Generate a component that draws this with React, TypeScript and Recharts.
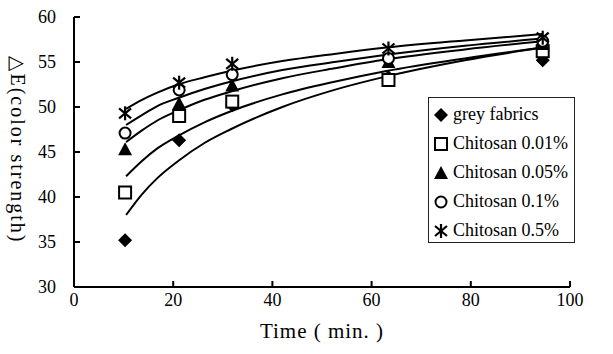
import React from "react";
import { ComposedChart, Line, Scatter, XAxis, YAxis, Legend } from "recharts";

// measured points (x as placed in the figure)
const pointTimes = [10.3, 21.2, 31.9, 63.4, 94.5];
const greyFabrics = [35.2, 46.3, 50.2, 53.3, 55.2];
const chitosan001 = [40.5, 49.0, 50.6, 53.0, 56.2];
const chitosan005 = [45.3, 50.4, 52.4, 55.0, 57.0];
const chitosan01 = [47.1, 51.9, 53.6, 55.4, 57.3];
const chitosan05 = [49.3, 52.7, 54.8, 56.5, 57.7];

// trend curves
const curveTimes = [10.5, 13.7, 16.8, 21, 26.3, 31.5, 42, 52.5, 63, 78.8, 94.5];
const greyCurve = [38.0, 40.3, 42.1, 44.0, 46.0, 47.5, 50.0, 51.9, 53.4, 55.2, 56.6];
const c001Curve = [42.3, 44.0, 45.4, 46.8, 48.3, 49.5, 51.4, 52.8, 54.0, 55.4, 56.6];
const c005Curve = [46.1, 47.4, 48.5, 49.6, 50.8, 51.7, 53.2, 54.3, 55.3, 56.4, 57.3];
const c01Curve = [48.0, 49.1, 50.1, 51.0, 52.0, 52.8, 54.1, 55.0, 55.8, 56.8, 57.6];
const c05Curve = [49.8, 50.8, 51.6, 52.5, 53.3, 54.0, 55.1, 55.9, 56.6, 57.4, 58.1];

const xTicks = [0, 20, 40, 60, 80, 100];
const yTicks = [30, 35, 40, 45, 50, 55, 60];

const FONT = "'Liberation Serif', 'Times New Roman', serif";

type Marker = "diamond" | "square" | "triangle" | "circle" | "star";

const series: { name: string; marker: Marker; values: number[]; curve: number[] }[] = [
  { name: "grey fabrics", marker: "diamond", values: greyFabrics, curve: greyCurve },
  { name: "Chitosan 0.01%", marker: "square", values: chitosan001, curve: c001Curve },
  { name: "Chitosan 0.05%", marker: "triangle", values: chitosan005, curve: c005Curve },
  { name: "Chitosan 0.1%", marker: "circle", values: chitosan01, curve: c01Curve },
  { name: "Chitosan 0.5%", marker: "star", values: chitosan05, curve: c05Curve },
];

const curveData = curveTimes.map((t, i) => {
  const row: Record<string, number> = { t };
  series.forEach((s, k) => {
    row["c" + k] = s.curve[i];
  });
  return row;
});

function MarkerShape({ kind, cx, cy }: { kind: Marker; cx: number; cy: number }) {
  if (kind === "diamond") {
    return <polygon points={`${cx},${cy - 7} ${cx + 7},${cy} ${cx},${cy + 7} ${cx - 7},${cy}`} fill="#000" />;
  }
  if (kind === "square") {
    return <rect x={cx - 6} y={cy - 6} width={12} height={12} fill="#fff" stroke="#000" strokeWidth={2} />;
  }
  if (kind === "triangle") {
    return <polygon points={`${cx},${cy - 7} ${cx + 7},${cy + 6} ${cx - 7},${cy + 6}`} fill="#000" />;
  }
  if (kind === "circle") {
    return <circle cx={cx} cy={cy} r={5.5} fill="#fff" stroke="#000" strokeWidth={2} />;
  }
  return (
    <g stroke="#000" strokeWidth={2.2}>
      <line x1={cx} y1={cy - 7} x2={cx} y2={cy + 7} />
      <line x1={cx - 6} y1={cy - 5} x2={cx + 6} y2={cy + 5} />
      <line x1={cx - 6} y1={cy + 5} x2={cx + 6} y2={cy - 5} />
    </g>
  );
}

function LegendBox() {
  return (
    <div
      style={{
        width: 147,
        height: 146,
        border: "1px solid #222",
        background: "#fff",
        fontFamily: FONT,
        fontSize: 18,
        boxSizing: "border-box",
        paddingTop: 2,
      }}
    >
      {series.map((s) => (
        <div key={s.name} style={{ display: "flex", alignItems: "center", height: 29 }}>
          <svg width={24} height={18} style={{ flex: "none" }}>
            <MarkerShape kind={s.marker} cx={12} cy={9} />
          </svg>
          <span style={{ whiteSpace: "nowrap" }}>{s.name}</span>
        </div>
      ))}
    </div>
  );
}

export default function App() {
  return (
    <div style={{ position: "absolute", left: 0, top: 0, width: 613, height: 354, background: "#fff" }}>
      <ComposedChart width={613} height={354} data={curveData} margin={{ top: 17, right: 43, bottom: 0, left: 0 }}>
        <XAxis
          dataKey="t"
          type="number"
          domain={[0, 100]}
          ticks={xTicks}
          tickSize={-6}
          tickMargin={12}
          height={67}
          stroke="#000"
          strokeWidth={2}
          tick={{ fill: "#000", fontSize: 18, fontFamily: FONT }}
        />
        <YAxis
          type="number"
          domain={[30, 60]}
          ticks={yTicks}
          tickSize={-6}
          tickMargin={24}
          width={74}
          stroke="#000"
          strokeWidth={2}
          tick={{ fill: "#000", fontSize: 18, fontFamily: FONT }}
        />
        {series.map((s, k) => (
          <Line
            key={"c" + k}
            dataKey={"c" + k}
            type="monotone"
            stroke="#000"
            strokeWidth={2}
            dot={false}
            legendType="none"
            isAnimationActive={false}
          />
        ))}
        {series.map((s) => (
          <Scatter
            key={s.name}
            name={s.name}
            data={pointTimes.map((t, i) => ({ t, v: s.values[i] }))}
            dataKey="v"
            isAnimationActive={false}
            shape={(p: any) => <MarkerShape kind={s.marker} cx={p.cx} cy={p.cy} />}
          />
        ))}
        <Legend
          layout="horizontal"
          verticalAlign="middle"
          align="center"
          content={() => <LegendBox />}
          wrapperStyle={{ position: "absolute", left: 428, top: 97, width: 147 }}
        />
      </ComposedChart>
      <div
        style={{
          position: "absolute",
          left: 322,
          top: 331,
          transform: "translate(-50%, -50%)",
          fontFamily: FONT,
          fontSize: 21,
          letterSpacing: 1,
          whiteSpace: "nowrap",
        }}
      >
        Time ( min. )
      </div>
      <div
        style={{
          position: "absolute",
          left: 18,
          top: 150,
          transform: "translate(-50%, -50%) rotate(90deg)",
          fontFamily: FONT,
          fontSize: 20,
          letterSpacing: 2,
          whiteSpace: "nowrap",
        }}
      >
        △E(color strength)
      </div>
    </div>
  );
}
